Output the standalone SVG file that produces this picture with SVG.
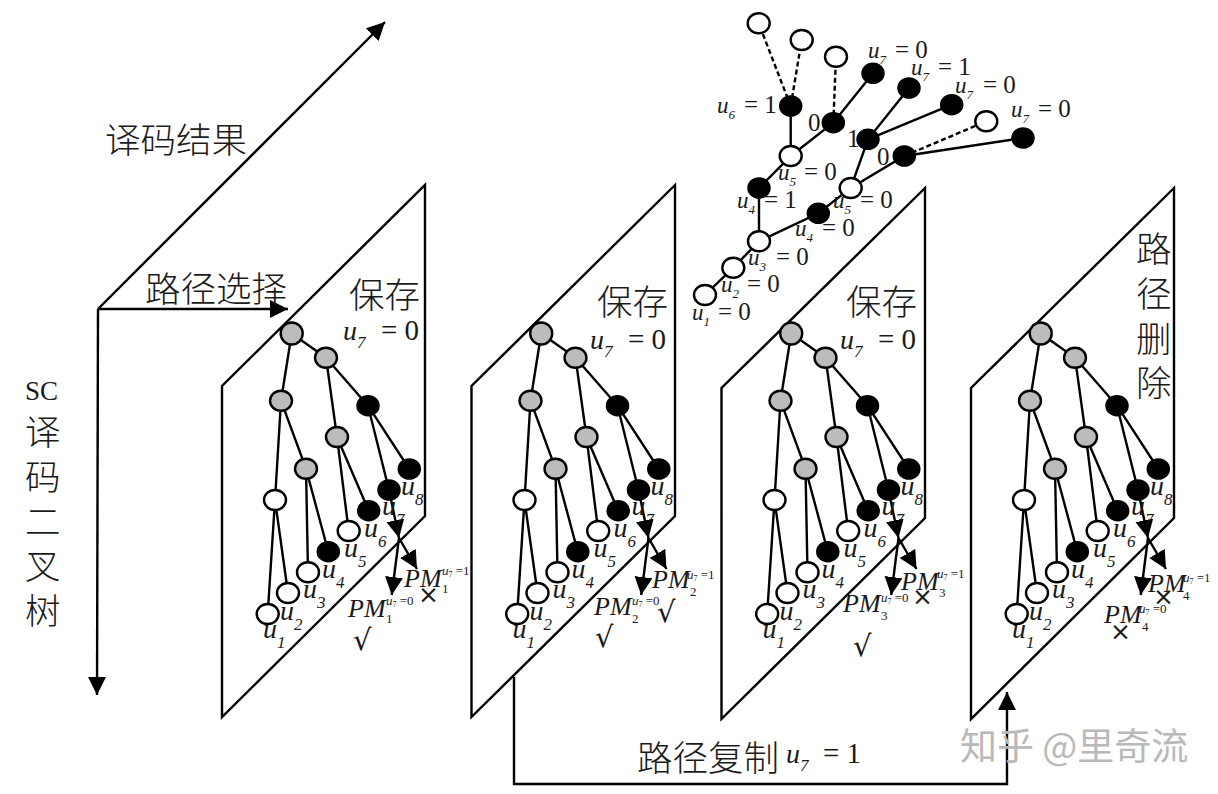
<svg xmlns="http://www.w3.org/2000/svg" xmlns:xlink="http://www.w3.org/1999/xlink" width="1218" height="794" viewBox="0 0 1218 794">
<style>
.l{fill:none;stroke:#000;stroke-width:2.4}
.d{fill:none;stroke:#000;stroke-width:2.4;stroke-dasharray:5 3}
.p{fill:none;stroke:#000;stroke-width:2.4;stroke-linejoin:miter}
.w{fill:#fff;stroke:#000;stroke-width:2.4}
.k{fill:#000;stroke:#000;stroke-width:1.5}
.g{fill:#bcbcbc;stroke:#000;stroke-width:2.4}
text{fill:#1a1a1a;font-family:"Liberation Serif",serif}
.cn{font-family:"Noto Sans CJK SC",sans-serif;font-weight:300;font-size:35.500px}
.u{font-style:italic;font-size:28px}
.s{font-size:17px}
.b{font-size:29px}
.t{font-style:italic;font-size:23px}
.ts{font-size:13px}
.n{font-size:25px}
.m{font-style:italic;font-size:26px}
.ms{font-size:13px}
.mp{font-style:italic;font-size:13px}
.c{font-family:"DejaVu Sans",sans-serif;font-size:29px}
.x{font-family:"DejaVu Sans",sans-serif;font-size:25px}
.wm{font-family:"Noto Sans CJK SC",sans-serif;font-size:37px;fill:#b9b9b9}
</style>
<defs>
<marker id="h" markerUnits="userSpaceOnUse" markerWidth="22" markerHeight="22" refX="18" refY="9" orient="auto"><path d="M0,0 L18,9 L0,18 Z" fill="#000"/></marker>
<g id="edges">
<path class="l" d="M291.7,333.5 L326,357.7 M291.7,333.5 L281,400.7 M281,400.7 L275,500 M281,400.7 L306,468.7 M326,357.7 L337,437 M326,357.7 L368,405.7 M368,405.7 L409.3,469 M368,405.7 L389,490 M337,437 L348.7,531 M337,437 L368.7,510.7 M306,468.7 L308,572.3 M306,468.7 L328.3,551.7 M275,500 L267.7,614 M275,500 L288,593"/>
</g>
<g id="pmarrows">
<path class="l" d="M389,490 L399,538" marker-end="url(#h)"/>
<path class="l" d="M399,538 L391.7,595" marker-end="url(#h)"/>
<path class="l" d="M399,538 L417,569" marker-end="url(#h)"/>
</g>
</defs>

<g id="planes">
<path id="plane1" class="p" d="M222,717 V386 L425,185 V516 Z"/>
<path id="plane2" class="p" d="M471.500,717 V386 L675,185 V516 Z"/>
<path id="plane3" class="p" d="M721.500,719 V388 L925,188 V518 Z"/>
<path id="plane4" class="p" d="M971,719 V388 L1174,188 V518 Z"/>
</g>

<g id="connectors">
<path class="l" d="M98,309 L385,22" marker-end="url(#h)"/>
<path class="l" d="M98,309 H288" marker-end="url(#h)"/>
<path class="l" d="M98,309 L97,695" marker-end="url(#h)"/>
<path class="l" d="M514,677 V784 H1007 V692" marker-end="url(#h)"/>
<use href="#edges"/><use href="#edges" x="249.500"/><use href="#edges" x="499.500"/><use href="#edges" x="749"/>
<use href="#pmarrows"/><use href="#pmarrows" x="249.500"/><use href="#pmarrows" x="499.500"/><use href="#pmarrows" x="749"/>
<path class="l" d="M705,295 L733.300,267.700 L759,241.300 L759,188 L790.700,156 L790.700,106 M759,241.300 L818.300,213.300 L850.700,188 L904.300,156 L1023,138 M790.700,156 L833.300,122.700 L873,73.300 M850.700,188 L868,139.300 L909,88 M868,139.300 L951.700,104.700"/>
<path class="d" d="M790.700,106 L758.700,23.300 M790.700,106 L801.700,40 M833.300,122.700 L836,56.700 M904.300,156 L986.300,121.300"/>
</g>

<g id="tree1" transform="translate(0,0)">
<g id="a1"><ellipse class="g" cx="291.700" cy="333.500" rx="11" ry="11"/></g>
<g id="a2"><ellipse class="g" cx="326" cy="357.700" rx="11" ry="10"/></g>
<g id="a3"><ellipse class="g" cx="281" cy="400.700" rx="11" ry="10"/></g>
<g id="a4"><ellipse class="k" cx="368" cy="405.700" rx="11" ry="10"/></g>
<g id="a5"><ellipse class="g" cx="337" cy="437" rx="11" ry="10"/></g>
<g id="a6"><ellipse class="g" cx="306" cy="468.700" rx="11" ry="10"/></g>
<g id="a7"><ellipse class="w" cx="275" cy="500" rx="11" ry="10"/></g>
<g id="a8"><ellipse class="k" cx="409.300" cy="469" rx="11" ry="10"/></g>
<g id="a9"><ellipse class="k" cx="389" cy="490" rx="11" ry="10"/></g>
<g id="a10"><ellipse class="k" cx="368.700" cy="510.700" rx="11" ry="10"/></g>
<g id="a11"><ellipse class="w" cx="348.700" cy="531" rx="11" ry="10"/></g>
<g id="a12"><ellipse class="k" cx="328.300" cy="551.700" rx="11" ry="10"/></g>
<g id="a13"><ellipse class="w" cx="308" cy="572.300" rx="11" ry="10"/></g>
<g id="a14"><ellipse class="w" cx="288" cy="593" rx="11" ry="10"/></g>
<g id="a15"><ellipse class="w" cx="267.700" cy="614" rx="11" ry="10"/></g>
</g>
<g id="tree2" transform="translate(249.500,0)">
<g id="b1"><ellipse class="g" cx="291.700" cy="333.500" rx="11" ry="11"/></g>
<g id="b2"><ellipse class="g" cx="326" cy="357.700" rx="11" ry="10"/></g>
<g id="b3"><ellipse class="g" cx="281" cy="400.700" rx="11" ry="10"/></g>
<g id="b4"><ellipse class="k" cx="368" cy="405.700" rx="11" ry="10"/></g>
<g id="b5"><ellipse class="g" cx="337" cy="437" rx="11" ry="10"/></g>
<g id="b6"><ellipse class="g" cx="306" cy="468.700" rx="11" ry="10"/></g>
<g id="b7"><ellipse class="w" cx="275" cy="500" rx="11" ry="10"/></g>
<g id="b8"><ellipse class="k" cx="409.300" cy="469" rx="11" ry="10"/></g>
<g id="b9"><ellipse class="k" cx="389" cy="490" rx="11" ry="10"/></g>
<g id="b10"><ellipse class="k" cx="368.700" cy="510.700" rx="11" ry="10"/></g>
<g id="b11"><ellipse class="w" cx="348.700" cy="531" rx="11" ry="10"/></g>
<g id="b12"><ellipse class="k" cx="328.300" cy="551.700" rx="11" ry="10"/></g>
<g id="b13"><ellipse class="w" cx="308" cy="572.300" rx="11" ry="10"/></g>
<g id="b14"><ellipse class="w" cx="288" cy="593" rx="11" ry="10"/></g>
<g id="b15"><ellipse class="w" cx="267.700" cy="614" rx="11" ry="10"/></g>
</g>
<g id="tree3" transform="translate(499.500,0)">
<g id="c1"><ellipse class="g" cx="291.700" cy="333.500" rx="11" ry="11"/></g>
<g id="c2"><ellipse class="g" cx="326" cy="357.700" rx="11" ry="10"/></g>
<g id="c3"><ellipse class="g" cx="281" cy="400.700" rx="11" ry="10"/></g>
<g id="c4"><ellipse class="k" cx="368" cy="405.700" rx="11" ry="10"/></g>
<g id="c5"><ellipse class="g" cx="337" cy="437" rx="11" ry="10"/></g>
<g id="c6"><ellipse class="g" cx="306" cy="468.700" rx="11" ry="10"/></g>
<g id="c7"><ellipse class="w" cx="275" cy="500" rx="11" ry="10"/></g>
<g id="c8"><ellipse class="k" cx="409.300" cy="469" rx="11" ry="10"/></g>
<g id="c9"><ellipse class="k" cx="389" cy="490" rx="11" ry="10"/></g>
<g id="c10"><ellipse class="k" cx="368.700" cy="510.700" rx="11" ry="10"/></g>
<g id="c11"><ellipse class="w" cx="348.700" cy="531" rx="11" ry="10"/></g>
<g id="c12"><ellipse class="k" cx="328.300" cy="551.700" rx="11" ry="10"/></g>
<g id="c13"><ellipse class="w" cx="308" cy="572.300" rx="11" ry="10"/></g>
<g id="c14"><ellipse class="w" cx="288" cy="593" rx="11" ry="10"/></g>
<g id="c15"><ellipse class="w" cx="267.700" cy="614" rx="11" ry="10"/></g>
</g>
<g id="tree4" transform="translate(749,0)">
<g id="d1"><ellipse class="g" cx="291.700" cy="333.500" rx="11" ry="11"/></g>
<g id="d2"><ellipse class="g" cx="326" cy="357.700" rx="11" ry="10"/></g>
<g id="d3"><ellipse class="g" cx="281" cy="400.700" rx="11" ry="10"/></g>
<g id="d4"><ellipse class="k" cx="368" cy="405.700" rx="11" ry="10"/></g>
<g id="d5"><ellipse class="g" cx="337" cy="437" rx="11" ry="10"/></g>
<g id="d6"><ellipse class="g" cx="306" cy="468.700" rx="11" ry="10"/></g>
<g id="d7"><ellipse class="w" cx="275" cy="500" rx="11" ry="10"/></g>
<g id="d8"><ellipse class="k" cx="409.300" cy="469" rx="11" ry="10"/></g>
<g id="d9"><ellipse class="k" cx="389" cy="490" rx="11" ry="10"/></g>
<g id="d10"><ellipse class="k" cx="368.700" cy="510.700" rx="11" ry="10"/></g>
<g id="d11"><ellipse class="w" cx="348.700" cy="531" rx="11" ry="10"/></g>
<g id="d12"><ellipse class="k" cx="328.300" cy="551.700" rx="11" ry="10"/></g>
<g id="d13"><ellipse class="w" cx="308" cy="572.300" rx="11" ry="10"/></g>
<g id="d14"><ellipse class="w" cx="288" cy="593" rx="11" ry="10"/></g>
<g id="d15"><ellipse class="w" cx="267.700" cy="614" rx="11" ry="10"/></g>
</g>

<g id="toptree">
<g id="t1"><ellipse class="w" cx="758.700" cy="23.300" rx="11" ry="10"/></g>
<g id="t2"><ellipse class="w" cx="801.700" cy="40" rx="11" ry="10"/></g>
<g id="t3"><ellipse class="w" cx="836" cy="56.700" rx="11" ry="10"/></g>
<g id="t4"><ellipse class="k" cx="873" cy="73.300" rx="11" ry="10"/></g>
<g id="t5"><ellipse class="k" cx="909" cy="88" rx="11" ry="10"/></g>
<g id="t6"><ellipse class="k" cx="951.700" cy="104.700" rx="11" ry="10"/></g>
<g id="t7"><ellipse class="w" cx="986.300" cy="121.300" rx="11" ry="10"/></g>
<g id="t8"><ellipse class="k" cx="1023" cy="138" rx="11" ry="10"/></g>
<g id="t9"><ellipse class="k" cx="790.700" cy="106" rx="11" ry="10"/></g>
<g id="t10"><ellipse class="k" cx="833.300" cy="122.700" rx="11" ry="10"/></g>
<g id="t11"><ellipse class="k" cx="868" cy="139.300" rx="11" ry="10"/></g>
<g id="t12"><ellipse class="k" cx="904.300" cy="156" rx="11" ry="10"/></g>
<g id="t13"><ellipse class="w" cx="790.700" cy="156" rx="11" ry="10"/></g>
<g id="t14"><ellipse class="w" cx="850.700" cy="188" rx="11" ry="10"/></g>
<g id="t15"><ellipse class="k" cx="759" cy="188" rx="11" ry="10"/></g>
<g id="t16"><ellipse class="k" cx="818.300" cy="213.300" rx="11" ry="10"/></g>
<g id="t17"><ellipse class="w" cx="759" cy="241.300" rx="11" ry="10"/></g>
<g id="t18"><ellipse class="w" cx="733.300" cy="267.700" rx="11" ry="10"/></g>
<g id="t19"><ellipse class="w" cx="705" cy="295" rx="11" ry="10"/></g>
</g>

<g id="labels">
<text class="cn" x="105" y="153">译码结果</text>
<text class="cn" x="145" y="302">路径选择</text>
<text x="25" y="400" font-size="27">SC</text>
<text class="cn" x="25" y="445">译</text><text class="cn" x="25" y="490">码</text><text class="cn" x="25" y="535">二</text><text class="cn" x="25" y="579">叉</text><text class="cn" x="25" y="624">树</text>
<text class="cn" x="637" y="771">路径复制</text>
<text class="u" x="786" y="763">u<tspan class="s" dy="8">7</tspan></text><text class="b" x="823" y="763">= 1</text>
<text class="cn" x="1136" y="262">路</text><text class="cn" x="1136" y="307">径</text><text class="cn" x="1136" y="352">删</text><text class="cn" x="1136" y="396">除</text>
<text class="cn" x="349" y="308">保存</text><text class="cn" x="597" y="315">保存</text><text class="cn" x="846" y="315">保存</text>
<text class="wm" x="960" y="760">知乎 @里奇流</text>
</g>

<g id="u7labels">
<text class="u" x="343" y="340">u<tspan class="s" dy="8">7</tspan></text><text class="b" x="381" y="340">= 0</text>
<text class="u" x="590" y="349">u<tspan class="s" dy="8">7</tspan></text><text class="b" x="628" y="349">= 0</text>
<text class="u" x="840" y="349">u<tspan class="s" dy="8">7</tspan></text><text class="b" x="878" y="349">= 0</text>
</g>

<g id="toplabels">
<text class="t" x="692" y="320">u<tspan class="ts" dy="6">1</tspan></text><text class="n" x="718" y="320">= 0</text>
<text class="t" x="721" y="292">u<tspan class="ts" dy="6">2</tspan></text><text class="n" x="747" y="292">= 0</text>
<text class="t" x="748" y="265">u<tspan class="ts" dy="6">3</tspan></text><text class="n" x="776" y="265">= 0</text>
<text class="t" x="795" y="236">u<tspan class="ts" dy="6">4</tspan></text><text class="n" x="822" y="236">= 0</text>
<text class="t" x="737" y="208">u<tspan class="ts" dy="6">4</tspan></text><text class="n" x="764" y="208">= 1</text>
<text class="t" x="778" y="180">u<tspan class="ts" dy="6">5</tspan></text><text class="n" x="804" y="180">= 0</text>
<text class="t" x="833" y="208">u<tspan class="ts" dy="6">5</tspan></text><text class="n" x="860" y="208">= 0</text>
<text class="t" x="717" y="113">u<tspan class="ts" dy="6">6</tspan></text><text class="n" x="744" y="113">= 1</text>
<text class="n" x="808" y="131">0</text><text class="n" x="847" y="147">1</text><text class="n" x="877" y="165">0</text>
<text class="t" x="868" y="58">u<tspan class="ts" dy="6">7</tspan></text><text class="n" x="895" y="58">= 0</text>
<text class="t" x="911" y="75">u<tspan class="ts" dy="6">7</tspan></text><text class="n" x="938" y="75">= 1</text>
<text class="t" x="955" y="93">u<tspan class="ts" dy="6">7</tspan></text><text class="n" x="983" y="93">= 0</text>
<text class="t" x="1011" y="117">u<tspan class="ts" dy="6">7</tspan></text><text class="n" x="1038" y="117">= 0</text>
</g>

<g id="ulabels1">
<text class="u" x="263" y="638">u<tspan class="s" dy="10">1</tspan></text><text class="u" x="280" y="620">u<tspan class="s" dy="10">2</tspan></text><text class="u" x="303" y="598">u<tspan class="s" dy="10">3</tspan></text><text class="u" x="322" y="578">u<tspan class="s" dy="10">4</tspan></text><text class="u" x="344" y="557">u<tspan class="s" dy="10">5</tspan></text><text class="u" x="364" y="537">u<tspan class="s" dy="10">6</tspan></text><text class="u" x="382" y="515">u<tspan class="s" dy="10">7</tspan></text><text class="u" x="401" y="495">u<tspan class="s" dy="10">8</tspan></text>
</g>
<g id="ulabels2" transform="translate(249.500,0)">
<text class="u" x="263" y="638">u<tspan class="s" dy="10">1</tspan></text><text class="u" x="280" y="620">u<tspan class="s" dy="10">2</tspan></text><text class="u" x="303" y="598">u<tspan class="s" dy="10">3</tspan></text><text class="u" x="322" y="578">u<tspan class="s" dy="10">4</tspan></text><text class="u" x="344" y="557">u<tspan class="s" dy="10">5</tspan></text><text class="u" x="364" y="537">u<tspan class="s" dy="10">6</tspan></text><text class="u" x="382" y="515">u<tspan class="s" dy="10">7</tspan></text><text class="u" x="401" y="495">u<tspan class="s" dy="10">8</tspan></text>
</g>
<g id="ulabels3" transform="translate(499.500,0)">
<text class="u" x="263" y="638">u<tspan class="s" dy="10">1</tspan></text><text class="u" x="280" y="620">u<tspan class="s" dy="10">2</tspan></text><text class="u" x="303" y="598">u<tspan class="s" dy="10">3</tspan></text><text class="u" x="322" y="578">u<tspan class="s" dy="10">4</tspan></text><text class="u" x="344" y="557">u<tspan class="s" dy="10">5</tspan></text><text class="u" x="364" y="537">u<tspan class="s" dy="10">6</tspan></text><text class="u" x="382" y="515">u<tspan class="s" dy="10">7</tspan></text><text class="u" x="401" y="495">u<tspan class="s" dy="10">8</tspan></text>
</g>
<g id="ulabels4" transform="translate(749,0)">
<text class="u" x="263" y="638">u<tspan class="s" dy="10">1</tspan></text><text class="u" x="280" y="620">u<tspan class="s" dy="10">2</tspan></text><text class="u" x="303" y="598">u<tspan class="s" dy="10">3</tspan></text><text class="u" x="322" y="578">u<tspan class="s" dy="10">4</tspan></text><text class="u" x="344" y="557">u<tspan class="s" dy="10">5</tspan></text><text class="u" x="364" y="537">u<tspan class="s" dy="10">6</tspan></text><text class="u" x="382" y="515">u<tspan class="s" dy="10">7</tspan></text><text class="u" x="401" y="495">u<tspan class="s" dy="10">8</tspan></text>
</g>

<g id="pmlabels">
<text class="m" x="348" y="617">PM</text><text class="ms" x="386" y="623">1</text><text class="ms" x="386" y="605"><tspan class="mp">u</tspan><tspan dy="2" font-size="8">7</tspan><tspan dy="-2"> =0</tspan></text>
<text class="m" x="404" y="587">PM</text><text class="ms" x="442" y="593">1</text><text class="ms" x="442" y="575"><tspan class="mp">u</tspan><tspan dy="2" font-size="8">7</tspan><tspan dy="-2"> =1</tspan></text>
<text class="c" x="353" y="650">√</text><text class="x" x="418" y="603">×</text>

<text class="m" x="594" y="615">PM</text><text class="ms" x="632" y="623">2</text><text class="ms" x="632" y="605"><tspan class="mp">u</tspan><tspan dy="2" font-size="8">7</tspan><tspan dy="-2"> =0</tspan></text>
<text class="m" x="652" y="588">PM</text><text class="ms" x="690" y="596">2</text><text class="ms" x="687" y="579"><tspan class="mp">u</tspan><tspan dy="2" font-size="8">7</tspan><tspan dy="-2"> =1</tspan></text>
<text class="c" x="595" y="647">√</text><text class="c" x="657" y="622">√</text>

<text class="m" x="843" y="612">PM</text><text class="ms" x="881" y="620">3</text><text class="ms" x="881" y="602"><tspan class="mp">u</tspan><tspan dy="2" font-size="8">7</tspan><tspan dy="-2"> =0</tspan></text>
<text class="m" x="901" y="590">PM</text><text class="ms" x="939" y="597">3</text><text class="ms" x="937" y="578"><tspan class="mp">u</tspan><tspan dy="2" font-size="8">7</tspan><tspan dy="-2"> =1</tspan></text>
<text class="c" x="853" y="656">√</text><text class="x" x="912" y="605">×</text>

<text class="m" x="1104" y="623">PM</text><text class="ms" x="1142" y="631">4</text><text class="ms" x="1139" y="613"><tspan class="mp">u</tspan><tspan dy="2" font-size="8">7</tspan><tspan dy="-2"> =0</tspan></text>
<text class="m" x="1148" y="592">PM</text><text class="ms" x="1183" y="600">4</text><text class="ms" x="1183" y="582"><tspan class="mp">u</tspan><tspan dy="2" font-size="8">7</tspan><tspan dy="-2"> =1</tspan></text>
<text class="x" x="1110" y="640">×</text><text class="x" x="1153" y="605">×</text>
</g>
</svg>
